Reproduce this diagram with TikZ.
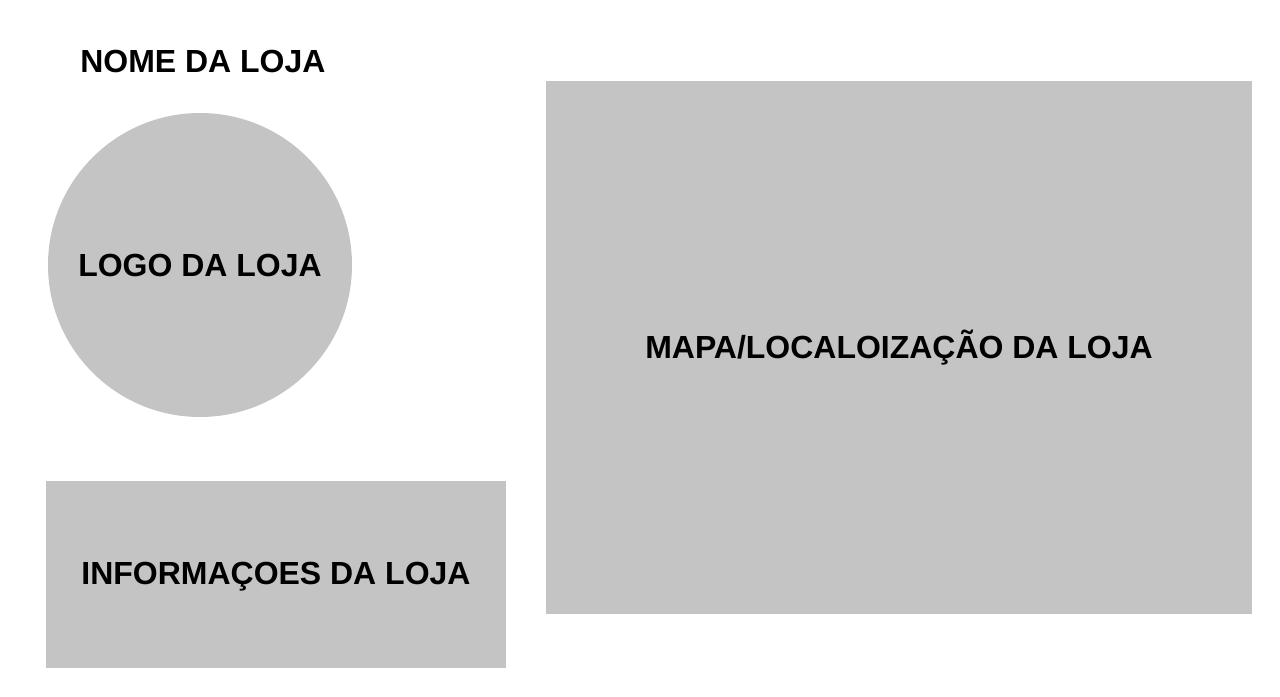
\documentclass[tikz,border=0pt]{standalone}
\usepackage{fontspec}
\setmainfont{Liberation Sans}
\usepackage{tikz}
\usetikzlibrary{positioning}
\definecolor{boxgray}{HTML}{C4C4C4}

\begin{document}
\begin{tikzpicture}[
  x=0.02cm, y=-0.02cm,
  font=\fontsize{18.2}{20}\selectfont\bfseries,
  lbl/.style   ={inner sep=0pt, text=black},
  logo/.style  ={circle, fill=boxgray, draw=none, minimum size=304*0.02cm, inner sep=0pt},
  panel/.style ={rectangle, fill=boxgray, draw=none, inner sep=0pt},
]
\useasboundingbox (0,0) rectangle (1280,696);

% --- Header ---
\node[lbl, anchor=west] (nome) at (80, 61) {NOME DA LOJA};

% --- Logo circle ---
\node[logo] (logo) at (200, 265) {LOGO DA LOJA};

% --- Info panel ---
\node[panel, minimum width=460*0.02cm, minimum height=187*0.02cm] (info) at (276, 574.5) {};
\node[lbl] (infotxt) at (276, 577) {INFORMAÇOES DA LOJA};

% --- Map panel ---
\node[panel, minimum width=706*0.02cm, minimum height=533*0.02cm] (mapa) at (899, 347.5) {MAPA/LOCALOIZAÇÃO DA LOJA};
\end{tikzpicture}
\end{document}
